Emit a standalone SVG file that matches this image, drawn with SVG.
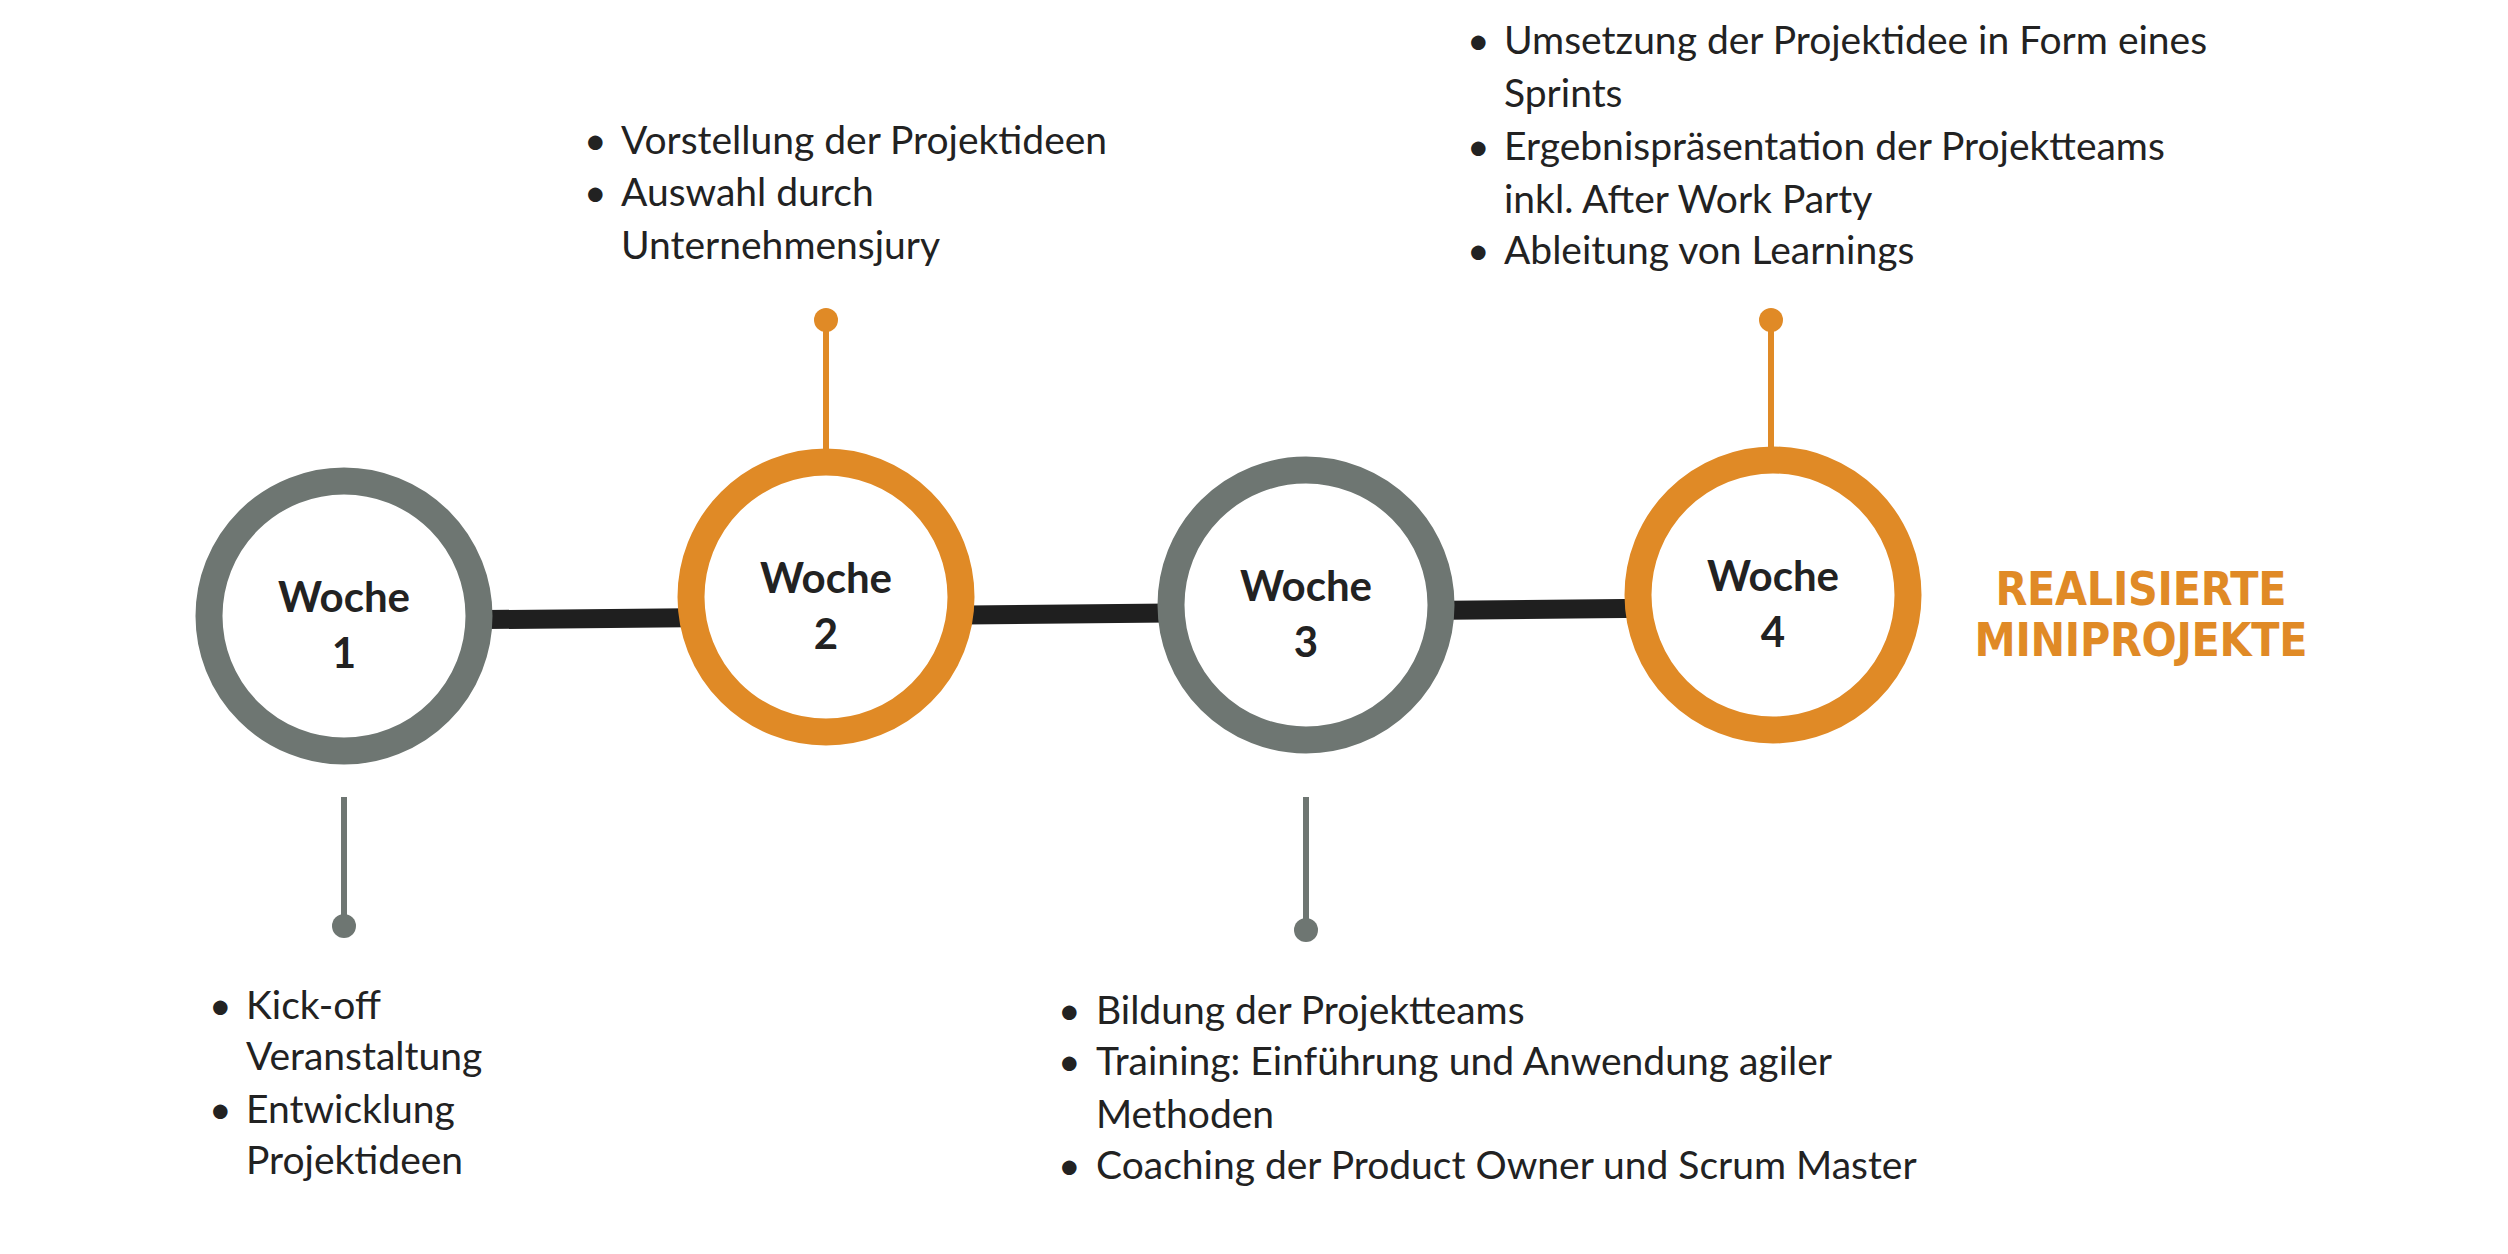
<svg xmlns="http://www.w3.org/2000/svg" width="2508" height="1254" viewBox="0 0 2508 1254">
<style>
.t{font-family:Lato,"Open Sans",sans-serif;font-size:39px;fill:#222}
.w{font-family:Lato,"Open Sans",sans-serif;font-size:42px;fill:#222;text-anchor:middle;font-weight:bold}
.g{stroke:#6E7672;fill:#fff}
.o{stroke:#E08A26;fill:#fff}
.r{font-family:"DejaVu Sans Condensed","Liberation Sans",sans-serif;font-weight:bold;font-size:46px;fill:#E08A26;text-anchor:middle}
</style>
<rect width="2508" height="1254" fill="#fff"/>
<g id="connectors">
<line x1="344" y1="621" x2="1773" y2="607" stroke="#1f1f1f" stroke-width="19"/>
<g stroke-width="6">
<line x1="826" y1="450" x2="826" y2="320" stroke="#E08A26"/><circle cx="826" cy="320" r="12" fill="#E08A26"/>
<line x1="1771" y1="450" x2="1771" y2="320" stroke="#E08A26"/><circle cx="1771" cy="320" r="12" fill="#E08A26"/>
<line x1="344" y1="797" x2="344" y2="926" stroke="#6E7672"/><circle cx="344" cy="926" r="12" fill="#6E7672"/>
<line x1="1306" y1="797" x2="1306" y2="930" stroke="#6E7672"/><circle cx="1306" cy="930" r="12" fill="#6E7672"/>
</g>
</g>
<g id="w1"><circle class="g" cx="344" cy="616" r="135" stroke-width="27"/><text class="w" x="344" y="612">Woche</text><text class="w" x="344" y="668">1</text></g>
<g id="w2"><circle class="o" cx="826" cy="597" r="135" stroke-width="27"/><text class="w" x="826" y="593">Woche</text><text class="w" x="826" y="649">2</text></g>
<g id="w3"><circle class="g" cx="1306" cy="605" r="135" stroke-width="27"/><text class="w" x="1306" y="601">Woche</text><text class="w" x="1306" y="657">3</text></g>
<g id="w4"><circle class="o" cx="1773" cy="595" r="135" stroke-width="27"/><text class="w" x="1773" y="591">Woche</text><text class="w" x="1773" y="647">4</text></g>
<g id="final"><text class="r" x="2141" y="605" textLength="291">REALISIERTE</text><text class="r" x="2141" y="656" textLength="333">MINIPROJEKTE</text></g>
<g id="text2" class="t">
<text x="584" y="154">•</text><text x="621" y="154">Vorstellung der Projektideen</text>
<text x="584" y="206">•</text><text x="621" y="206">Auswahl durch</text>
<text x="621" y="259">Unternehmensjury</text>
</g>
<g id="text4" class="t">
<text x="1467" y="54">•</text><text x="1504" y="54">Umsetzung der Projektidee in Form eines</text>
<text x="1504" y="107">Sprints</text>
<text x="1467" y="160">•</text><text x="1504" y="160">Ergebnispräsentation der Projektteams</text>
<text x="1504" y="213">inkl. After Work Party</text>
<text x="1467" y="264">•</text><text x="1504" y="264">Ableitung von Learnings</text>
</g>
<g id="text1" class="t">
<text x="209" y="1019">•</text><text x="246" y="1019">Kick-off</text>
<text x="246" y="1070">Veranstaltung</text>
<text x="209" y="1123">•</text><text x="246" y="1123">Entwicklung</text>
<text x="246" y="1174">Projektideen</text>
</g>
<g id="text3" class="t">
<text x="1058" y="1024">•</text><text x="1096" y="1024">Bildung der Projektteams</text>
<text x="1058" y="1075">•</text><text x="1096" y="1075">Training: Einführung und Anwendung agiler</text>
<text x="1096" y="1128">Methoden</text>
<text x="1058" y="1179">•</text><text x="1096" y="1179">Coaching der Product Owner und Scrum Master</text>
</g>
</svg>
